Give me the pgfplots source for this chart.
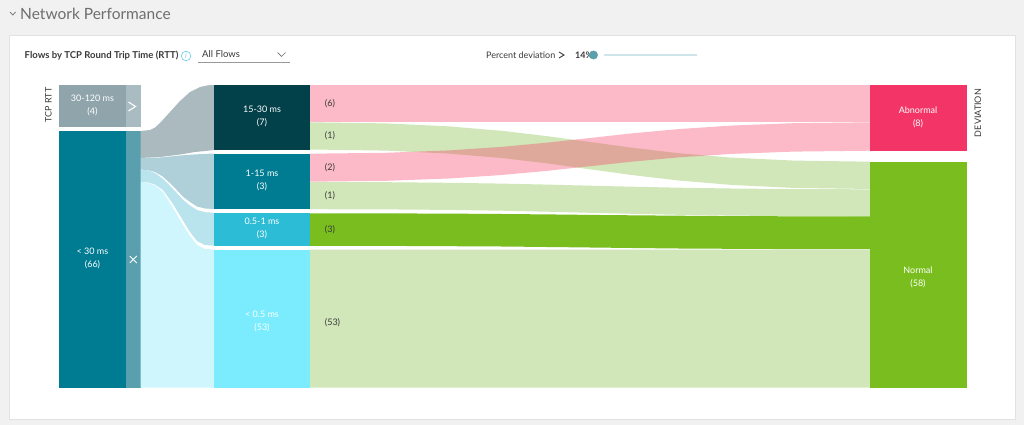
\documentclass[border=0pt]{standalone}
\usepackage{fontspec}
\setmainfont{Lato}
\usepackage{pgfplots}
\pgfplotsset{compat=1.18}
\definecolor{bg}{HTML}{F1F1F1}
\definecolor{cardb}{HTML}{E2E2E2}
\definecolor{pinkL}{RGB}{249,55,98}
\definecolor{greenL}{RGB}{124,189,55}
\definecolor{abn}{HTML}{F23566}
\definecolor{nrm}{HTML}{79BE1E}
\definecolor{txt}{HTML}{3A3A3A}
\definecolor{ttl}{HTML}{6E6E6E}
\definecolor{knob}{HTML}{5A9FAE}
\definecolor{track}{HTML}{CFE5EA}
\definecolor{infoc}{HTML}{6CCBE6}
\newcommand{\rect}[5]{\addplot[fill=#1,draw=none] coordinates {(#2,#4) (#3,#4) (#3,#5) (#2,#5)} --cycle;}
\newcommand{\shape}[2]{\addplot[fill=#1,draw=none] coordinates {#2} --cycle;}
\newcommand{\tlink}[2]{\addplot[fill=#1,draw=none,fill opacity=0.35] coordinates {#2} --cycle;}
\newcommand{\lab}[4][white]{\node[text=#1,font=\fontsize{9}{10}\selectfont,anchor=center,inner sep=0pt] at (axis cs:#2,#3) {#4};}
\begin{document}
\begin{tikzpicture}
\begin{axis}[scale only axis,width=1024pt,height=425pt,xmin=0,xmax=1024,ymin=0,ymax=425,y dir=reverse,hide axis,clip=true]
% page and card
\rect{bg}{0}{1024}{0}{425}
\addplot[fill=white,draw=cardb,line width=1pt] coordinates {(9.5,36) (1015.5,36) (1015.5,419) (9.5,419)} --cycle;
% column 1 nodes
\rect{black!0!white}{59}{140}{85}{387}
\rect{white}{59}{140}{85}{387}
\rect{{rgb,255:red,143;green,165;blue,171}}{59}{126}{85}{126.5}
\rect{{rgb,255:red,169;green,188;blue,194}}{126}{140.5}{85}{126.5}
\rect{{rgb,255:red,0;green,124;blue,146}}{59}{126}{130.5}{387.5}
\rect{knob}{126}{140.5}{130.5}{387.5}
% links column 1 to column 2
\shape{{rgb,255:red,171;green,186;blue,191}}{(140.5,131) (150,130) (155,127.5) (160,123) (170,112) (180,101) (190,92) (200,87) (208,85.3) (214,85) (214,150) (205,151) (195,152) (180,154.5) (160,157) (140.5,158)}
\shape{{rgb,255:red,176;green,208;blue,217}}{(140.5,158) (160,157.5) (180,155.5) (195,154.4) (214,153.5) (214,209) (205,208.5) (197,206.5) (190,202) (183,196.7) (173,186) (163,176.7) (155,172) (148,170.2) (140.5,169.5)}
\shape{{rgb,255:red,185;green,227;blue,237}}{(140.5,169.5) (148,170.4) (155,173) (163,179) (173,189) (183,199.7) (190,205.5) (197,210) (205,212.2) (214,212.7) (214,245.7) (205,245) (197,241) (190,232) (183,220.5) (173,204) (163,190) (155,184.5) (148,182.4) (140.5,181.7)}
\shape{{rgb,255:red,208;green,246;blue,253}}{(140.5,181.7) (148,182.8) (155,185.5) (163,192) (173,208) (183,225) (190,236) (197,245) (205,249) (214,249.5) (214,387.5) (140.5,387.5)}
% column 2 nodes
\rect{{rgb,255:red,2;green,64;blue,74}}{214}{310}{85}{149.7}
\rect{{rgb,255:red,0;green,124;blue,146}}{214}{310}{153.5}{209.2}
\rect{{rgb,255:red,45;green,188;blue,214}}{214}{310}{212.9}{245.9}
\rect{{rgb,255:red,122;green,236;blue,254}}{214}{310}{249.5}{387.5}
% links column 2 to column 3
\tlink{pinkL}{(310,85) (870,85) (870,122) (310,122)}
\tlink{greenL}{(310,122.3) (386.2,123.4) (448.9,126.4) (501.5,130.8) (547.4,136.2) (590,142) (632.6,147.8) (678.5,153.2) (731.1,157.6) (793.8,160.6) (870,161.7) (870,189) (793.8,187.9) (731.1,184.9) (678.5,180.5) (632.6,175.1) (590,169.3) (547.4,163.4) (501.5,158) (448.9,153.6) (386.2,150.6) (310,149.5)}
\tlink{pinkL}{(310,153.7) (386.2,152.8) (448.9,150.4) (501.5,146.9) (547.4,142.6) (590,138) (632.6,133.3) (678.5,129.1) (731.1,125.6) (793.8,123.2) (870,122.3) (870,150.7) (793.8,151.6) (731.1,153.9) (678.5,157.4) (632.6,161.6) (590,166.2) (547.4,170.8) (501.5,175) (448.9,178.5) (386.2,180.8) (310,181.7)}
\tlink{greenL}{(310,182) (386.2,182.2) (448.9,182.8) (501.5,183.6) (547.4,184.6) (590,185.7) (632.6,186.7) (678.5,187.7) (731.1,188.5) (793.8,189.1) (870,189.3) (870,216.3) (793.8,216.1) (731.1,215.6) (678.5,214.8) (632.6,213.8) (590,212.8) (547.4,211.7) (501.5,210.7) (448.9,209.9) (386.2,209.4) (310,209.2)}
\shape{nrm}{(310,213.3) (386.2,213.4) (448.9,213.6) (501.5,214) (547.4,214.4) (590,214.9) (632.6,215.3) (678.5,215.7) (731.1,216.1) (793.8,216.3) (870,216.4) (870,249.2) (793.8,249.1) (731.1,248.8) (678.5,248.5) (632.6,248) (590,247.5) (547.4,247) (501.5,246.5) (448.9,246.2) (386.2,245.9) (310,245.8)}
\tlink{greenL}{(310,249.5) (870,249.7) (870,387.5) (310,387.5)}
% column 4 nodes
\rect{abn}{870}{967}{85}{150.7}
\rect{nrm}{870}{967}{161.5}{387.5}
% node labels
\lab{92.5}{98}{30-120 ms}
\lab{92.5}{112}{(4)}
\lab{92.5}{251}{< 30 ms}
\lab{92.5}{265}{(66)}
\lab{262}{109}{15-30 ms}
\lab{262}{123}{(7)}
\lab{262}{173}{1-15 ms}
\lab{262}{187}{(3)}
\lab{262}{221}{0.5-1 ms}
\lab{262}{235}{(3)}
\lab{262}{314}{< 0.5 ms}
\lab{262}{328}{(53)}
\lab{918}{110}{Abnormal}
\lab{918}{124}{(8)}
\lab{918}{270}{Normal}
\lab{918}{284}{(58)}
\lab[txt]{330}{104}{(6)}
\lab[txt]{330}{136}{(1)}
\lab[txt]{330}{168}{(2)}
\lab[txt]{330}{196}{(1)}
\lab[txt]{330}{230}{(3)}
\lab[txt]{332.5}{323}{(53)}
% expand and close glyphs
\addplot[draw=white,line width=1.1pt] coordinates {(128.5,102) (135.5,106.5) (128.5,111)};
\addplot[draw=white,line width=0.8pt] coordinates {(129.8,256) (136.8,263)};
\addplot[draw=white,line width=0.8pt] coordinates {(129.8,263) (136.8,256)};
% axis side titles
\node[text=txt,rotate=90,font=\fontsize{9}{10}\selectfont,inner sep=0pt] at (axis cs:48.5,105) {TCP RTT};
\node[text=txt,rotate=90,font=\fontsize{9}{10}\selectfont,inner sep=0pt] at (axis cs:978,113) {DEVIATION};
% header
\addplot[draw=ttl,line width=0.7pt] coordinates {(10,12) (12.8,15) (15.6,12)};
\node[text=ttl,anchor=west,font=\fontsize{15.5}{17}\selectfont,inner sep=0pt] at (axis cs:20,13.5) {Network Performance};
\node[text=txt,anchor=west,font=\fontsize{9.5}{11}\selectfont\bfseries,inner sep=0pt] at (axis cs:24.5,56) {Flows by TCP Round Trip Time (RTT)};
\addplot[only marks,mark=o,mark size=4.8pt,mark options={draw=infoc,line width=0.6pt}] coordinates {(186,56)};
\node[text=infoc,font=\fontsize{7.5}{8}\selectfont\itshape,inner sep=0pt] at (axis cs:186,56) {i};
\node[text=txt,anchor=west,font=\fontsize{9.5}{11}\selectfont,inner sep=0pt] at (axis cs:202,54.5) {All Flows};
\addplot[draw=ttl!70,line width=0.7pt] coordinates {(198,62) (290,62)};
\addplot[draw=ttl,line width=0.7pt] coordinates {(277.5,52.5) (281.5,56.5) (285.5,52.5)};
% sliders
\node[text=txt,anchor=west,font=\fontsize{9}{10}\selectfont,inner sep=0pt] at (axis cs:486,55) {Percent deviation};
\addplot[draw=txt,line width=0.9pt] coordinates {(559,52) (564,55) (559,58)};
\node[text=txt,anchor=west,font=\fontsize{9}{10}\selectfont\bfseries,inner sep=0pt] at (axis cs:575,55) {14\%};
\addplot[draw=track,line width=2.5pt] coordinates {(604,55) (680,55) (680,55) (697,55)};
\addplot[only marks,mark=*,mark size=4.2pt,mark options={draw=knob,fill=knob}] coordinates {(593.5,55)};
\end{axis}
\end{tikzpicture}
\end{document}
